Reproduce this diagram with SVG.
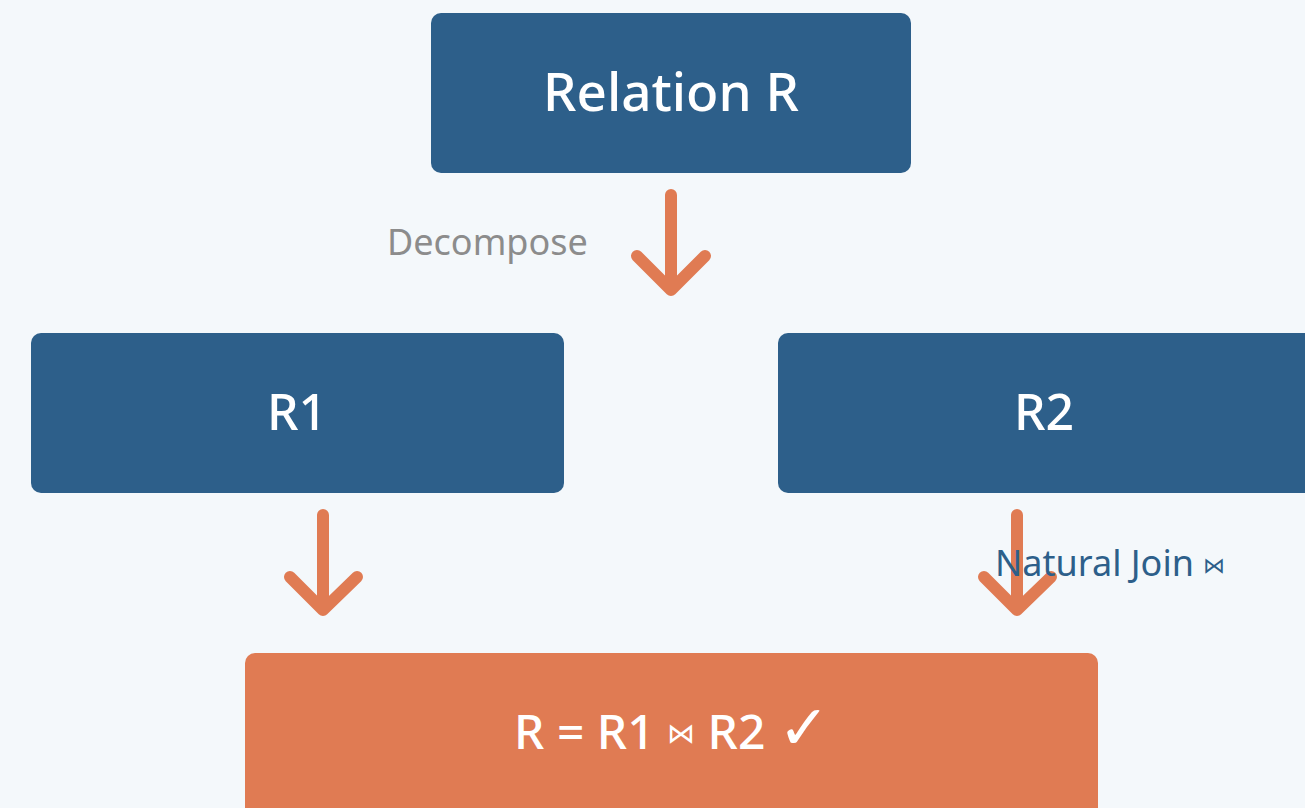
<svg xmlns="http://www.w3.org/2000/svg" width="1305" height="808" viewBox="0 0 1305 808">
<style>
.node{fill:#2d5f8a}
.res{fill:#e07b53}
.t{font-family:"Noto Sans","Open Sans",sans-serif;fill:#ffffff;text-anchor:middle;font-weight:500}
.arr{fill:none;stroke:#e07b53;stroke-width:12;stroke-linecap:round;stroke-linejoin:round}
.lbl{font-family:"Noto Sans","Open Sans",sans-serif;font-size:36px}
</style>
<rect width="1305" height="808" fill="#f4f8fb"/>
<g id="connectors">
<path class="arr" d="M671 195V290M637 256L671 290L705 256"/>
<path class="arr" d="M323 515V610M290 577L323 610L357 577"/>
<path class="arr" d="M1017 515V610M984 577L1017 610L1051 577"/>
</g>
<g id="label-decompose"><text class="lbl" x="387" y="255" fill="#8c8c8c">Decompose</text></g>
<g id="node-R"><rect class="node" x="431" y="13" width="480" height="160" rx="10"/><text class="t" x="671" y="111" font-size="53">Relation R</text></g>
<g id="node-R1"><rect class="node" x="31" y="333" width="533" height="160" rx="10"/><text class="t" x="297" y="430" font-size="50">R1</text></g>
<g id="node-R2"><rect class="node" x="778" y="333" width="540" height="160" rx="10"/><text class="t" x="1044" y="430" font-size="50">R2</text></g>
<g id="label-join"><text class="lbl" x="995" y="576" fill="#2d5f8a">Natural Join <tspan font-size="22" dy="-3">⋈</tspan></text></g>
<g id="node-result"><rect class="res" x="245" y="653" width="853" height="170" rx="10"/><text class="t" x="672" y="749" font-size="48">R = R1 <tspan font-size="28" dy="-6">⋈</tspan><tspan dy="6"> R2 </tspan><tspan font-size="62">✓</tspan></text></g>
</svg>
